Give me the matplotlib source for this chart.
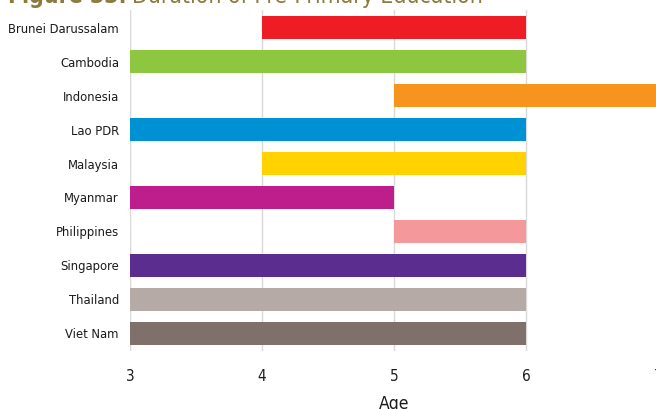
import matplotlib
matplotlib.use("Agg")
import matplotlib.pyplot as plt

plt.rcParams['font.family'] = ['DejaVu Sans']
plt.rcParams['font.stretch'] = 'condensed'

# Data
countries = ['Brunei Darussalam', 'Cambodia', 'Indonesia', 'Lao PDR', 'Malaysia',
             'Myanmar', 'Philippines', 'Singapore', 'Thailand', 'Viet Nam']
start_age = [4, 3, 5, 3, 4, 3, 5, 3, 3, 3]
end_age = [6, 6, 7, 6, 6, 5, 6, 6, 6, 6]
colors = ['#EE1C25', '#8DC63F', '#F7941E', '#0090D4', '#FFD200',
          '#BE1E8C', '#F4989C', '#5B2D8E', '#B5AAA5', '#7F706B']
age_ticks = [3, 4, 5, 6, 7]

fig = plt.figure(figsize=(6.56, 4.09), dpi=100)
ax = fig.add_axes([130 / 656, 1 - 351 / 409, 528 / 656, 341 / 409])

widths = [e - s for s, e in zip(start_age, end_age)]
ax.barh(range(len(countries)), widths, left=start_age, height=0.68,
        color=colors, zorder=3)

ax.set_xlim(3, 7)
ax.set_ylim(9.53, -0.53)
ax.set_yticks(range(len(countries)))
ax.set_yticklabels(countries)
ax.set_xticks(age_ticks)
ax.set_xticklabels([str(a) for a in age_ticks])

for s in ax.spines.values():
    s.set_visible(False)
ax.tick_params(axis='both', length=0, colors='#1a1a1a')
ax.tick_params(axis='y', labelsize=9.3, pad=8)
ax.tick_params(axis='x', labelsize=11, pad=13)
ax.grid(axis='x', color='#d9d9d9', linewidth=1, zorder=0)
ax.axvline(3, color='#d9d9d9', linewidth=1.5, zorder=1)
ax.set_xlabel('Age', fontsize=12.5, color='#1a1a1a', labelpad=8)

t1 = fig.text(8 / 656, 1 - 2.5 / 409, 'Figure 33:', fontsize=16.5, fontweight='bold',
              color='#8C7B3E', va='baseline', ha='left')
fig.canvas.draw()
bb = t1.get_window_extent()
fig.text(bb.x1 / 656 + 5 / 656, 1 - 2.5 / 409, 'Duration of Pre-Primary Education',
         fontsize=16.5, color='#8C7B3E', va='baseline', ha='left')

fig.savefig('out.png', dpi=100)
